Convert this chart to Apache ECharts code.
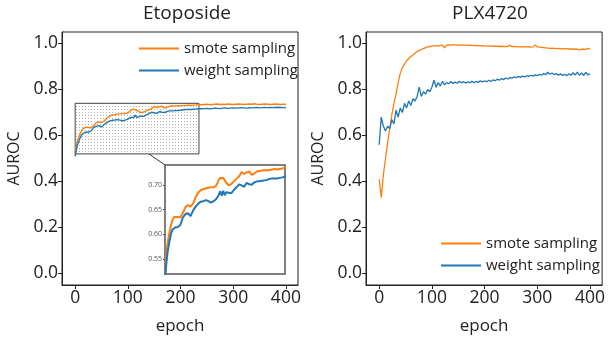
<!DOCTYPE html>
<html><head><meta charset="utf-8">
<script src="https://cdn.jsdelivr.net/npm/echarts@6/dist/echarts.min.js"></script>
<style>html,body{margin:0;padding:0;background:#fff}#c{width:608px;height:341px}</style>
</head><body><div id="c"></div>
<script>
const FONT = '"Open Sans","Liberation Sans",sans-serif';
const titles = ['Etoposide', 'PLX4720'];
const seriesNames = ['smote sampling', 'weight sampling'];
const xTicks = [0, 100, 200, 300, 400];
const yTicks = [0.0, 0.2, 0.4, 0.6, 0.8, 1.0];
const insetYTicks = [0.55, 0.60, 0.65, 0.70];
const insetX = [0, 235];
const insetY = [0.52, 0.74];

// Etoposide
const etoEpoch = [0,2,4,6,8,10,12,15,18,20,25,30,35,40,45,50,55,60,65,70,75,80,85,90,95,100,105,108,111,114,117,120,
  125,130,135,140,145,150,155,160,165,170,175,180,185,190,195,200,205,210,215,220,225,230,235,
  240,245,250,255,260,265,270,275,280,285,290,295,300,305,310,315,320,325,330,335,340,345,350,355,360,365,370,375,380,385,390,395,400];
const etoSmote = [0.510,0.548,0.572,0.588,0.600,0.610,0.620,0.630,0.635,0.636,0.635,0.634,0.643,0.655,0.659,0.656,0.662,0.675,0.684,0.689,0.691,0.693,0.694,0.695,0.695,0.698,0.709,0.714,0.715,0.714,0.709,0.704,
  0.699,0.702,0.707,0.712,0.717,0.726,0.722,0.725,0.727,0.720,0.723,0.727,0.728,0.729,0.730,0.729,0.730,0.731,0.732,0.731,0.732,0.733,0.735,
  0.734,0.735,0.736,0.734,0.735,0.736,0.737,0.735,0.736,0.735,0.737,0.736,0.735,0.736,0.737,0.736,0.735,0.736,0.737,0.736,0.738,0.736,0.735,0.736,0.737,0.736,0.735,0.736,0.737,0.736,0.735,0.736,0.736];
const etoWeight = [0.510,0.535,0.555,0.570,0.582,0.592,0.602,0.610,0.613,0.614,0.615,0.619,0.634,0.641,0.643,0.637,0.648,0.656,0.662,0.666,0.667,0.669,0.667,0.664,0.667,0.671,0.679,0.687,0.678,0.688,0.679,0.685,
  0.684,0.683,0.690,0.695,0.701,0.699,0.696,0.704,0.701,0.700,0.705,0.707,0.707,0.708,0.709,0.710,0.712,0.713,0.713,0.713,0.714,0.715,0.717,
  0.716,0.717,0.718,0.716,0.717,0.719,0.718,0.717,0.719,0.720,0.718,0.719,0.720,0.719,0.720,0.721,0.720,0.719,0.721,0.720,0.721,0.722,0.720,0.721,0.722,0.721,0.722,0.721,0.722,0.723,0.722,0.721,0.722];

// PLX4720
const plxEpoch = [0,4,8,12,16,20,24,28,32,36,40,44,48,52,56,60,64,68,72,76,80,84,88,92,96,100,104,108,112,116,120,124,128,132,136,140,144,148,152,156,160,164,168,172,176,180,184,188,192,196,200,
  204,208,212,216,220,224,228,232,236,240,244,248,252,256,260,264,268,272,276,280,284,288,292,296,300,304,308,312,316,320,324,328,332,336,340,344,348,352,356,360,364,368,372,376,380,384,388,392,396,400];
const plxSmote = [0.41,0.33,0.43,0.50,0.57,0.63,0.69,0.74,0.78,0.83,0.87,0.895,0.91,0.925,0.935,0.943,0.95,0.958,0.965,0.970,0.974,0.978,0.982,0.985,0.987,0.989,0.990,0.991,0.989,0.992,0.993,0.981,0.993,0.994,0.993,0.995,0.994,0.993,0.994,0.993,0.994,0.993,0.992,0.993,0.992,0.991,0.992,0.991,0.990,0.991,0.990,
  0.989,0.990,0.989,0.988,0.989,0.988,0.987,0.988,0.987,0.986,0.987,0.993,0.986,0.987,0.986,0.985,0.986,0.985,0.986,0.985,0.986,0.984,0.985,0.994,0.985,0.984,0.983,0.982,0.981,0.980,0.979,0.980,0.979,0.978,0.979,0.977,0.978,0.977,0.978,0.976,0.977,0.976,0.975,0.976,0.971,0.975,0.976,0.974,0.979,0.976];
const plxWeight = [0.56,0.68,0.64,0.62,0.64,0.63,0.67,0.65,0.71,0.68,0.72,0.70,0.74,0.72,0.75,0.73,0.76,0.75,0.77,0.81,0.77,0.79,0.78,0.80,0.79,0.81,0.84,0.81,0.83,0.815,0.835,0.82,0.83,0.825,0.835,0.826,0.832,0.827,0.836,0.829,0.834,0.828,0.833,0.830,0.836,0.830,0.835,0.831,0.838,0.833,0.837,
  0.834,0.840,0.835,0.842,0.838,0.845,0.840,0.848,0.843,0.850,0.846,0.852,0.849,0.855,0.851,0.857,0.853,0.858,0.855,0.860,0.857,0.862,0.858,0.864,0.860,0.866,0.862,0.870,0.864,0.875,0.866,0.872,0.865,0.869,0.862,0.868,0.861,0.866,0.860,0.868,0.862,0.873,0.863,0.876,0.862,0.872,0.861,0.874,0.864,0.868];

const ORANGE = '#ff7f0e', BLUE = '#1f77b4', INK = '#222';
const pairs = (xs, ys) => xs.map((x, i) => [x, ys[i]]);

const cvs = document.createElement('canvas'); cvs.width = 3; cvs.height = 3;
const cx = cvs.getContext('2d'); cx.fillStyle = '#fff'; cx.fillRect(0, 0, 3, 3);
cx.fillStyle = '#b0b0b0'; cx.fillRect(1, 1, 1, 1);

const chart = echarts.init(document.getElementById('c'), null, {renderer: 'canvas'});

function mainX(gi) {
  return {gridIndex: gi, type: 'value', min: -25, max: 423,
    name: 'epoch', nameLocation: 'middle', nameGap: 33,
    nameTextStyle: {fontFamily: FONT, fontSize: 17, color: INK},
    axisLine: {show: true, onZero: false, lineStyle: {color: INK}},
    axisTick: {show: true, length: 4, lineStyle: {color: INK}, customValues: xTicks},
    axisLabel: {fontFamily: FONT, fontSize: 17.5, color: INK, margin: 4, customValues: xTicks},
    splitLine: {show: false}};
}
function mainY(gi) {
  return {gridIndex: gi, type: 'value', min: -0.05, max: 1.05,
    name: 'AUROC', nameLocation: 'middle', nameGap: 40,
    nameTextStyle: {fontFamily: FONT, fontSize: 16, color: INK},
    axisLine: {show: true, onZero: false, lineStyle: {color: INK}},
    axisTick: {show: true, length: 4, lineStyle: {color: INK}, customValues: yTicks},
    axisLabel: {fontFamily: FONT, fontSize: 17.5, color: INK, margin: 4, customValues: yTicks,
      formatter: v => v.toFixed(1)},
    splitLine: {show: false}};
}
const lineS = (name, color, xi, data, w) => ({name, type: 'line', xAxisIndex: xi, yAxisIndex: xi,
  data, showSymbol: false, symbol: 'none', lineStyle: {color, width: w}, itemStyle: {color}, z: 3, animation: false});

chart.setOption({
  animation: false,
  title: [
    {text: titles[0], left: 182, top: -1, textAlign: 'center', textStyle: {fontFamily: FONT, fontSize: 19, fontWeight: 'normal', color: INK}},
    {text: titles[1], left: 485, top: -1, textAlign: 'center', textStyle: {fontFamily: FONT, fontSize: 19, fontWeight: 'normal', color: INK}}
  ],
  legend: [
    {data: seriesNames, orient: 'vertical', left: 134, top: 36, itemWidth: 40, itemHeight: 2, icon: 'rect', itemGap: 7,
      textStyle: {fontFamily: FONT, fontSize: 15, color: INK}, selectedMode: false},
    {data: seriesNames, orient: 'vertical', left: 436, top: 231, itemWidth: 40, itemHeight: 2, icon: 'rect', itemGap: 7,
      textStyle: {fontFamily: FONT, fontSize: 15, color: INK}, selectedMode: false}
  ],
  grid: [
    {left: 62, top: 32, width: 236, height: 253, show: true, borderColor: INK, borderWidth: 1, backgroundColor: 'transparent'},
    {left: 366, top: 32, width: 239, height: 253, show: true, borderColor: INK, borderWidth: 1, backgroundColor: 'transparent'},
    {left: 165, top: 165, width: 120, height: 109, show: true, borderColor: '#555', borderWidth: 1.5, backgroundColor: '#fff', z: 4}
  ],
  xAxis: [mainX(0), mainX(1),
    {gridIndex: 2, type: 'value', min: insetX[0], max: insetX[1], z: 4,
      axisLine: {show: false}, axisTick: {show: false}, axisLabel: {show: false}, splitLine: {show: false}}],
  yAxis: [mainY(0), mainY(1),
    {gridIndex: 2, type: 'value', min: insetY[0], max: insetY[1], z: 4,
      axisLine: {show: false}, axisTick: {show: true, length: 2, lineStyle: {color: '#555'}, customValues: insetYTicks},
      axisLabel: {fontFamily: FONT, fontSize: 7, color: '#555', margin: 3, customValues: insetYTicks, formatter: v => v.toFixed(2)},
      splitLine: {show: false}}],
  series: [
    {type: 'line', xAxisIndex: 0, yAxisIndex: 0, data: [], z: 2, silent: true,
      markArea: {silent: true, itemStyle: {color: {image: cvs, repeat: 'repeat'}, opacity: 1, borderColor: '#444', borderWidth: 1},
        data: [[{coord: [insetX[0], insetY[1]]}, {coord: [insetX[1], insetY[0]]}]]}},
    lineS(seriesNames[0], ORANGE, 0, pairs(etoEpoch, etoSmote), 1.4),
    lineS(seriesNames[1], BLUE, 0, pairs(etoEpoch, etoWeight), 1.4),
    lineS(seriesNames[0], ORANGE, 1, pairs(plxEpoch, plxSmote), 1.3),
    lineS(seriesNames[1], BLUE, 1, pairs(plxEpoch, plxWeight), 1.3),
    Object.assign(lineS(seriesNames[0], ORANGE, 2, pairs(etoEpoch, etoSmote), 2), {z: 5, clip: true}),
    Object.assign(lineS(seriesNames[1], BLUE, 2, pairs(etoEpoch, etoWeight), 2), {z: 5, clip: true})
  ]
});

const p1 = chart.convertToPixel({xAxisIndex: 0, yAxisIndex: 0}, [insetX[0], insetY[1]]);
const p2 = chart.convertToPixel({xAxisIndex: 2, yAxisIndex: 2}, [insetX[0], insetY[1]]);
chart.setOption({graphic: [{type: 'line', z: 0, silent: true,
  shape: {x1: p1[0], y1: p1[1], x2: p2[0], y2: p2[1]}, style: {stroke: '#333', lineWidth: 1}}]});
</script></body></html>
